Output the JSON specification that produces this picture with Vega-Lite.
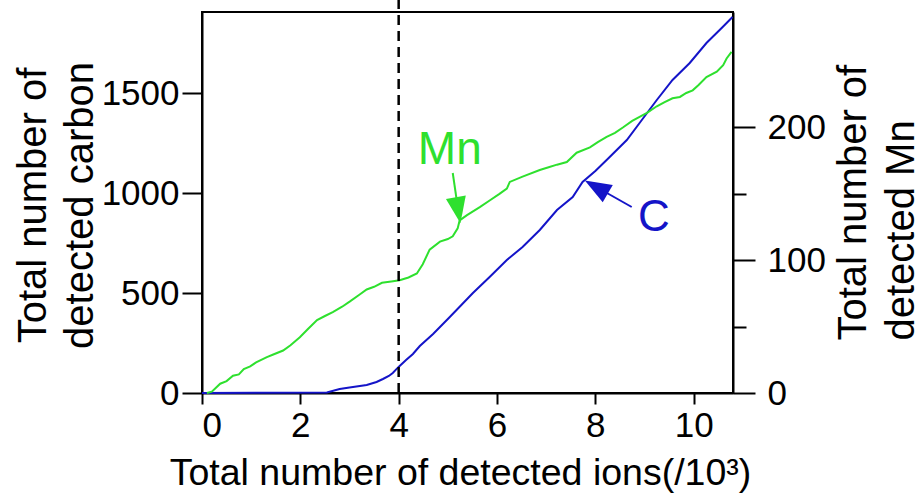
{
  "$schema": "https://vega.github.io/schema/vega-lite/v6.json",
  "width": 531,
  "height": 381,
  "autosize": {"type": "none"},
  "padding": {"left": 202, "top": 12, "right": 189, "bottom": 101},
  "background": "white",
  "config": {
    "font": "Liberation Sans",
    "view": {"stroke": "black", "strokeWidth": 2},
    "axis": {"grid": false, "domainColor": "black", "domainWidth": 2, "tickColor": "black", "tickWidth": 2, "labelColor": "black", "titleColor": "black", "labelFontSize": 35, "titleFontWeight": "normal", "labelFont": "Liberation Sans", "titleFont": "Liberation Sans"}
  },
  "datasets": {
    "c": [
      {"ions": 0, "carbon": 0}, {"ions": 2.54, "carbon": 3}, {"ions": 2.8, "carbon": 20}, {"ions": 3.0, "carbon": 28},
      {"ions": 3.35, "carbon": 40}, {"ions": 3.55, "carbon": 55}, {"ions": 3.68, "carbon": 70}, {"ions": 3.8, "carbon": 85},
      {"ions": 3.88, "carbon": 100}, {"ions": 3.95, "carbon": 118}, {"ions": 4.02, "carbon": 135}, {"ions": 4.15, "carbon": 165},
      {"ions": 4.29, "carbon": 195}, {"ions": 4.43, "carbon": 235}, {"ions": 4.7, "carbon": 295}, {"ions": 5.04, "carbon": 380},
      {"ions": 5.51, "carbon": 500}, {"ions": 5.85, "carbon": 580}, {"ions": 6.2, "carbon": 665}, {"ions": 6.52, "carbon": 730},
      {"ions": 6.87, "carbon": 815}, {"ions": 7.22, "carbon": 915}, {"ions": 7.54, "carbon": 980}, {"ions": 7.74, "carbon": 1055},
      {"ions": 8.0, "carbon": 1110}, {"ions": 8.23, "carbon": 1165}, {"ions": 8.64, "carbon": 1265}, {"ions": 8.9, "carbon": 1350},
      {"ions": 9.25, "carbon": 1465}, {"ions": 9.57, "carbon": 1565}, {"ions": 9.92, "carbon": 1650}, {"ions": 10.26, "carbon": 1750},
      {"ions": 10.59, "carbon": 1830}, {"ions": 10.79, "carbon": 1880}
    ],
    "mn": [
      {"ions": 0.1, "mn": 0}, {"ions": 0.2, "mn": 1}, {"ions": 0.37, "mn": 7}, {"ions": 0.5, "mn": 9}, {"ions": 0.63, "mn": 13},
      {"ions": 0.75, "mn": 14}, {"ions": 0.85, "mn": 18}, {"ions": 0.98, "mn": 20}, {"ions": 1.1, "mn": 23}, {"ions": 1.32, "mn": 27},
      {"ions": 1.45, "mn": 29}, {"ions": 1.65, "mn": 32}, {"ions": 1.8, "mn": 36}, {"ions": 1.99, "mn": 42}, {"ions": 2.15, "mn": 48},
      {"ions": 2.34, "mn": 55}, {"ions": 2.5, "mn": 58}, {"ions": 2.66, "mn": 61}, {"ions": 2.85, "mn": 65}, {"ions": 3.01, "mn": 69},
      {"ions": 3.2, "mn": 74}, {"ions": 3.35, "mn": 78}, {"ions": 3.5, "mn": 80}, {"ions": 3.66, "mn": 83}, {"ions": 3.85, "mn": 84},
      {"ions": 4.02, "mn": 85}, {"ions": 4.2, "mn": 87}, {"ions": 4.37, "mn": 90}, {"ions": 4.49, "mn": 97}, {"ions": 4.63, "mn": 108},
      {"ions": 4.84, "mn": 114}, {"ions": 5.0, "mn": 116}, {"ions": 5.1, "mn": 118}, {"ions": 5.2, "mn": 124}, {"ions": 5.24, "mn": 130},
      {"ions": 5.39, "mn": 134}, {"ions": 5.65, "mn": 140}, {"ions": 5.85, "mn": 145}, {"ions": 6.05, "mn": 150}, {"ions": 6.2, "mn": 154},
      {"ions": 6.26, "mn": 159}, {"ions": 6.52, "mn": 163}, {"ions": 6.87, "mn": 168}, {"ions": 7.05, "mn": 170}, {"ions": 7.22, "mn": 172},
      {"ions": 7.42, "mn": 174}, {"ions": 7.62, "mn": 181}, {"ions": 7.89, "mn": 185}, {"ions": 8.05, "mn": 189}, {"ions": 8.23, "mn": 193},
      {"ions": 8.4, "mn": 196}, {"ions": 8.56, "mn": 200}, {"ions": 8.75, "mn": 205}, {"ions": 8.9, "mn": 208}, {"ions": 9.05, "mn": 211},
      {"ions": 9.25, "mn": 216}, {"ions": 9.4, "mn": 219}, {"ions": 9.57, "mn": 222}, {"ions": 9.72, "mn": 223}, {"ions": 9.85, "mn": 226},
      {"ions": 9.98, "mn": 228}, {"ions": 10.1, "mn": 232}, {"ions": 10.26, "mn": 238}, {"ions": 10.47, "mn": 242}, {"ions": 10.6, "mn": 247},
      {"ions": 10.67, "mn": 252}, {"ions": 10.77, "mn": 257}
    ]
  },
  "layer": [
    {
      "data": {"name": "c"},
      "mark": {"type": "line", "color": "#1414c8", "strokeWidth": 2},
      "encoding": {
        "x": {"field": "ions", "type": "quantitative", "scale": {"domain": [0, 10.8], "nice": false, "zero": false},
          "axis": {"values": [0, 2, 4, 6, 8, 10], "tickSize": 11, "labelPadding": 4, "domain": true,
            "title": "Total number of detected ions(/10³)", "titleFontSize": 37.5, "titleX": 258, "titleY": 91, "titleAlign": "center", "titleBaseline": "alphabetic", "titleAnchor": null}},
        "y": {"field": "carbon", "type": "quantitative", "scale": {"domain": [0, 1905], "nice": false},
          "axis": {"values": [0, 500, 1000, 1500], "format": "d", "tickSize": 20, "labelPadding": 3,
            "title": ["Total number of", "detected carbon"], "titleFontSize": 40, "titleLineHeight": 47, "titleAngle": 270, "titleAlign": "center", "titleBaseline": "top", "titleX": -189, "titleY": 193}}
      }
    },
    {
      "data": {"name": "mn"},
      "mark": {"type": "line", "color": "#2ee02e", "strokeWidth": 2},
      "encoding": {
        "x": {"field": "ions", "type": "quantitative"},
        "y": {"field": "mn", "type": "quantitative", "scale": {"domain": [0, 287], "nice": false},
          "axis": {"orient": "right", "values": [0, 50, 100, 150, 200],
            "tickSize": {"condition": {"test": "datum.value % 100 === 0", "value": 22}, "value": 13},
            "labelPadding": 12,
            "labelExpr": "datum.value % 100 === 0 ? datum.label : ''",
            "title": ["Total number of", "detected Mn"], "titleFontSize": 40, "titleLineHeight": 48, "titleAngle": 270, "titleAlign": "left", "titleBaseline": "top", "titleX": 100, "titleY": 328}}
      }
    },
    {
      "data": {"values": [{"ions": 4, "bottom": 0, "top": 1965}]},
      "mark": {"type": "rule", "color": "black", "strokeWidth": 2.5, "strokeDash": [10, 6], "clip": false},
      "encoding": {
        "x": {"field": "ions", "type": "quantitative"},
        "y": {"field": "bottom", "type": "quantitative", "scale": {"domain": [0, 1905], "nice": false}, "axis": null},
        "y2": {"field": "top"}
      }
    },
    {
      "data": {"values": [{"ions": 5.04, "carbon": 1215, "label": "Mn"}]},
      "mark": {"type": "text", "color": "#2ee02e", "fontSize": 46, "align": "center", "baseline": "middle"},
      "encoding": {
        "x": {"field": "ions", "type": "quantitative"},
        "y": {"field": "carbon", "type": "quantitative", "scale": {"domain": [0, 1905], "nice": false}, "axis": null},
        "text": {"field": "label"}
      }
    },
    {
      "data": {"values": [{"ions": 9.19, "carbon": 875, "label": "C"}]},
      "mark": {"type": "text", "color": "#1414c8", "fontSize": 44, "align": "center", "baseline": "middle"},
      "encoding": {
        "x": {"field": "ions", "type": "quantitative"},
        "y": {"field": "carbon", "type": "quantitative", "scale": {"domain": [0, 1905], "nice": false}, "axis": null},
        "text": {"field": "label"}
      }
    },
    {
      "data": {"values": [{"ions": 5.1, "carbon": 1100, "ions2": 5.21, "carbon2": 914}]},
      "mark": {"type": "rule", "color": "#2ee02e", "strokeWidth": 2},
      "encoding": {
        "x": {"field": "ions", "type": "quantitative"},
        "x2": {"field": "ions2"},
        "y": {"field": "carbon", "type": "quantitative", "scale": {"domain": [0, 1905], "nice": false}, "axis": null},
        "y2": {"field": "carbon2"}
      }
    },
    {
      "data": {"values": [{"ions": 8.74, "carbon": 930, "ions2": 8.02, "carbon2": 1030}]},
      "mark": {"type": "rule", "color": "#1414c8", "strokeWidth": 2},
      "encoding": {
        "x": {"field": "ions", "type": "quantitative"},
        "x2": {"field": "ions2"},
        "y": {"field": "carbon", "type": "quantitative", "scale": {"domain": [0, 1905], "nice": false}, "axis": null},
        "y2": {"field": "carbon2"}
      }
    },
    {
      "data": {"values": [{"ions": 5.21, "carbon": 914}]},
      "mark": {"type": "point", "shape": "M0,-1L0.76,1L-0.76,1Z", "filled": true, "color": "#2ee02e", "size": 700, "angle": 170, "opacity": 1},
      "encoding": {
        "x": {"field": "ions", "type": "quantitative"},
        "y": {"field": "carbon", "type": "quantitative", "scale": {"domain": [0, 1905], "nice": false}, "axis": null}
      }
    },
    {
      "data": {"values": [{"ions": 8.02, "carbon": 1030}]},
      "mark": {"type": "point", "shape": "M0,-1L0.76,1L-0.76,1Z", "filled": true, "color": "#1414c8", "size": 700, "angle": 300, "opacity": 1},
      "encoding": {
        "x": {"field": "ions", "type": "quantitative"},
        "y": {"field": "carbon", "type": "quantitative", "scale": {"domain": [0, 1905], "nice": false}, "axis": null}
      }
    }
  ],
  "resolve": {"scale": {"y": "independent"}}
}
